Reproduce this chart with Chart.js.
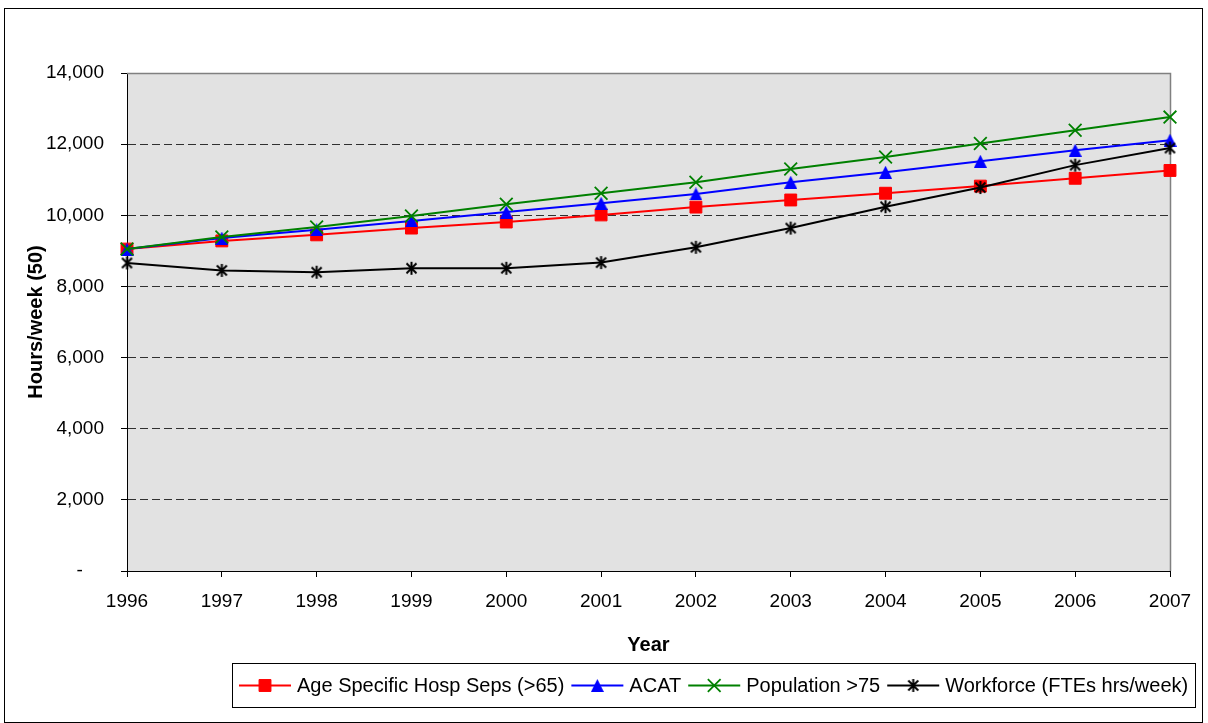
<!DOCTYPE html>
<html>
<head>
<meta charset="utf-8">
<title>Hours/week (50)</title>
<script src="https://cdn.jsdelivr.net/npm/chart.js@4.4.1/dist/chart.umd.min.js"></script>
<style>
  html, body { margin: 0; padding: 0; background: #ffffff; }
  canvas { display: block; }
</style>
</head>
<body>
<canvas id="chart" width="1208" height="723"></canvas>
<script>
// Years on the horizontal axis
const years = ['1996', '1997', '1998', '1999', '2000', '2001', '2002', '2003', '2004', '2005', '2006', '2007'];

// Projected hours per week under each driver
const hospSeps     = [9050, 9280, 9450, 9640, 9810, 10010, 10230, 10430, 10620, 10820, 11040, 11260];
const acat         = [9050, 9360, 9590, 9840, 10090, 10340, 10600, 10930, 11210, 11520, 11830, 12110];
const population75 = [9050, 9390, 9670, 9980, 10310, 10620, 10930, 11300, 11640, 12020, 12390, 12760];
const workforce    = [8660, 8450, 8400, 8510, 8510, 8670, 9100, 9640, 10240, 10780, 11410, 11890];

// Series names
const seriesNames = ['Age Specific Hosp Seps (>65)', 'ACAT', 'Population >75', 'Workforce (FTEs hrs/week)'];

// Value axis range
const yMin = 0;
const yMax = 14000;
const yStep = 2000;

const FONT = '"Liberation Sans", Arial, Helvetica, sans-serif';

// Small canvas markers for the triangle and asterisk symbols
function makeTriangle(color) {
  const c = document.createElement('canvas');
  c.width = 13; c.height = 13;
  const g = c.getContext('2d');
  g.fillStyle = color;
  g.beginPath();
  g.moveTo(6.5, 0);
  g.lineTo(13, 13);
  g.lineTo(0, 13);
  g.closePath();
  g.fill();
  return c;
}
function makeAsterisk(color) {
  const c = document.createElement('canvas');
  c.width = 15; c.height = 15;
  const g = c.getContext('2d');
  g.strokeStyle = color;
  g.lineWidth = 2;
  g.lineCap = 'butt';
  g.beginPath();
  g.moveTo(7.5, 1); g.lineTo(7.5, 14);
  g.moveTo(2.5, 2.5); g.lineTo(12.5, 12.5);
  g.moveTo(12.5, 2.5); g.lineTo(2.5, 12.5);
  g.stroke();
  return c;
}

const triangleBlue = makeTriangle('#0000ff');
const asteriskBlack = makeAsterisk('#000000');

// Accounting-style number format: thousands separators, zero shown as a dash
function formatTick(v) {
  if (v === 0) return '-    ';
  return String(v).replace(/\B(?=(\d{3})+(?!\d))/g, ',');
}

// Background, frame and plot area
const framePlugin = {
  id: 'frame',
  beforeDraw(chart) {
    const { ctx, chartArea: a, width, height } = chart;
    ctx.save();
    ctx.fillStyle = '#ffffff';
    ctx.fillRect(0, 0, width, height);
    ctx.fillStyle = '#e2e2e2';
    ctx.fillRect(a.left, a.top, a.right - a.left, a.bottom - a.top);
    ctx.strokeStyle = '#000000';
    ctx.lineWidth = 1;
    ctx.strokeRect(4.5, 8.5, width - 10, height - 9);
    ctx.restore();
  },
  beforeDatasetsDraw(chart) {
    const { ctx, chartArea: a } = chart;
    ctx.save();
    ctx.strokeStyle = '#808080';
    ctx.lineWidth = 1.5;
    ctx.beginPath();
    ctx.moveTo(a.left, a.top + 0.5);
    ctx.lineTo(a.right + 0.5, a.top + 0.5);
    ctx.lineTo(a.right + 0.5, a.bottom);
    ctx.stroke();
    ctx.restore();
  }
};

// Boxed legend with a line and marker sample for each series
const boxLegendPlugin = {
  id: 'boxLegend',
  afterDraw(chart) {
    const { ctx } = chart;
    const boxLeft = 232.5, boxTop = 663.5, boxHeight = 44;
    const cy = boxTop + boxHeight / 2;
    const sampleLen = 52, textGap = 6, itemGap = 7;
    ctx.save();
    ctx.font = '20px ' + FONT;
    ctx.textBaseline = 'middle';
    ctx.textAlign = 'left';
    let x = boxLeft + 6.5;
    chart.data.datasets.forEach((ds) => {
      ctx.strokeStyle = ds.borderColor;
      ctx.lineWidth = 2;
      ctx.beginPath();
      ctx.moveTo(x, cy);
      ctx.lineTo(x + sampleLen, cy);
      ctx.stroke();
      ctx.fillStyle = ds.pointBackgroundColor;
      ctx.strokeStyle = ds.pointBorderColor;
      ctx.lineWidth = ds.pointBorderWidth;
      Chart.helpers.drawPoint(ctx, {
        pointStyle: ds.pointStyle,
        radius: ds.pointRadius,
        borderWidth: ds.pointBorderWidth,
        rotation: 0
      }, x + sampleLen / 2, cy);
      x += sampleLen + textGap;
      ctx.fillStyle = '#000000';
      ctx.fillText(ds.label, x, cy + 1);
      x += ctx.measureText(ds.label).width + itemGap;
    });
    const boxRight = Math.round(x) + 0.5;
    ctx.strokeStyle = '#000000';
    ctx.lineWidth = 1;
    ctx.strokeRect(boxLeft, boxTop, boxRight - boxLeft, boxHeight);
    ctx.restore();
  }
};

new Chart(document.getElementById('chart'), {
  type: 'line',
  data: {
    labels: years,
    datasets: [
      {
        label: seriesNames[0],
        data: hospSeps,
        borderColor: '#ff0000',
        borderWidth: 2,
        pointStyle: 'rect',
        pointRadius: 8.4,
        pointBackgroundColor: '#ff0000',
        pointBorderColor: '#ff0000',
        pointBorderWidth: 1,
        order: 4
      },
      {
        label: seriesNames[1],
        data: acat,
        borderColor: '#0000ff',
        borderWidth: 2,
        pointStyle: triangleBlue,
        pointRadius: 7,
        pointBackgroundColor: '#0000ff',
        pointBorderColor: '#0000ff',
        pointBorderWidth: 1,
        order: 3
      },
      {
        label: seriesNames[2],
        data: population75,
        borderColor: '#008000',
        borderWidth: 2,
        pointStyle: 'crossRot',
        pointRadius: 9,
        pointBackgroundColor: '#008000',
        pointBorderColor: '#008000',
        pointBorderWidth: 1.8,
        order: 2
      },
      {
        label: seriesNames[3],
        data: workforce,
        borderColor: '#000000',
        borderWidth: 2,
        pointStyle: asteriskBlack,
        pointRadius: 7,
        pointBackgroundColor: '#000000',
        pointBorderColor: '#000000',
        pointBorderWidth: 2,
        order: 1
      }
    ]
  },
  options: {
    responsive: false,
    animation: false,
    events: [],
    layout: { padding: { top: 73, right: 38, left: 0, bottom: 0 } },
    elements: { line: { tension: 0 } },
    plugins: {
      legend: { display: false },
      tooltip: { enabled: false },
      title: { display: false }
    },
    scales: {
      x: {
        type: 'category',
        offset: false,
        grid: {
          display: true,
          drawOnChartArea: false,
          drawTicks: true,
          tickLength: 6,
          color: '#000000',
          offset: false
        },
        border: { display: true, color: '#000000', width: 1 },
        ticks: {
          color: '#000000',
          font: { family: FONT, size: 19 },
          padding: 13,
          maxRotation: 0,
          autoSkip: false
        },
        title: {
          display: true,
          text: 'Year',
          color: '#000000',
          font: { family: FONT, size: 20, weight: 'bold' },
          padding: { top: 0, bottom: 66 }
        },
        afterFit(scale) { scale.height = 152; }
      },
      y: {
        min: yMin,
        max: yMax,
        grid: {
          color: (ctx) => (ctx.tick && (ctx.tick.value === yMin || ctx.tick.value === yMax)) ? 'rgba(0,0,0,0)' : '#303030',
          tickColor: '#000000',
          tickLength: 6,
          lineWidth: 1
        },
        border: { display: true, color: '#000000', width: 1, dash: [8, 4] },
        ticks: {
          stepSize: yStep,
          color: '#000000',
          font: { family: FONT, size: 19 },
          padding: 17,
          callback: (v) => formatTick(v)
        },
        title: {
          display: true,
          text: 'Hours/week (50)',
          color: '#000000',
          font: { family: FONT, size: 20, weight: 'bold' },
          padding: { top: 24, bottom: 0 }
        },
        afterFit(scale) { scale.width = 127; }
      }
    }
  },
  plugins: [framePlugin, boxLegendPlugin]
});
</script>
</body>
</html>
